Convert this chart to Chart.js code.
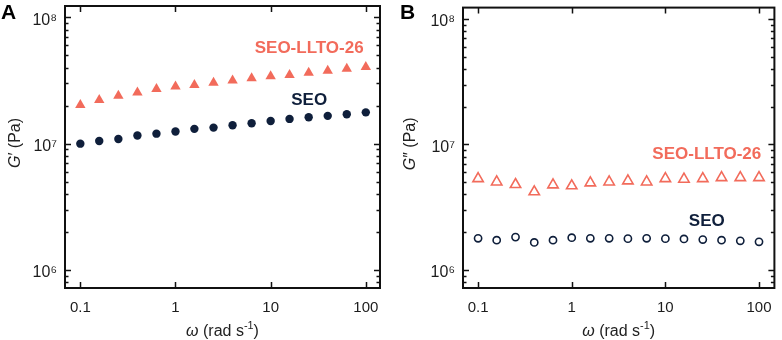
<!DOCTYPE html>
<html><head><meta charset="utf-8">
<script src="https://cdn.jsdelivr.net/npm/chart.js@4/dist/chart.umd.min.js"></script>
<style>
body{margin:0;background:#fff;width:782px;height:340px;overflow:hidden;position:relative}
.p{position:absolute;top:0;width:391px;height:340px}
</style></head><body>
<div class="p" style="left:0"><canvas id="cA" width="391" height="340"></canvas></div>
<div class="p" style="left:391px"><canvas id="cB" width="391" height="340"></canvas></div>
<script>
// angular frequency (rad/s)
const omega = [0.1,0.158,0.251,0.398,0.631,1,1.58,2.51,3.98,6.31,10,15.8,25.1,39.8,63.1,100];
// Panel A: storage modulus G' (Pa)
const storageSEO  = [1.00e7,1.05e7,1.09e7,1.16e7,1.20e7,1.25e7,1.31e7,1.34e7,1.40e7,1.45e7,1.51e7,1.57e7,1.62e7,1.66e7,1.71e7,1.77e7];
const storageLLTO = [2.02e7,2.22e7,2.40e7,2.54e7,2.71e7,2.84e7,2.92e7,3.04e7,3.17e7,3.29e7,3.41e7,3.50e7,3.64e7,3.78e7,3.92e7,4.05e7];
// Panel B: loss modulus G'' (Pa)
const lossSEO  = [1.79e6,1.73e6,1.83e6,1.66e6,1.73e6,1.81e6,1.79e6,1.79e6,1.78e6,1.79e6,1.78e6,1.77e6,1.75e6,1.73e6,1.71e6,1.68e6];
const lossLLTO = [5.35e6,5.03e6,4.80e6,4.20e6,4.77e6,4.69e6,4.95e6,5.03e6,5.13e6,5.03e6,5.35e6,5.29e6,5.35e6,5.45e6,5.45e6,5.45e6];
// ticks
const xTickValues = [0.1,1,10,100];
const xTickLabels = ['0.1','1','10','100'];
const yTickValues = [1e6,1e7,1e8];
const yTickLabels = ['10\u2076','10\u2077','10\u2078'];
const seriesNames = ['SEO','SEO-LLTO-26'];

const NAVY = '#0f1f3b';
const SALMON = '#f26b5b';
const FONT = '"Liberation Sans", Arial, sans-serif';

function pts(xs, ys){ return xs.map((x,i)=>({x:x,y:ys[i]})); }

function drawRich(ctx, parts, x, y, size){
  let total = 0;
  const ws = parts.map(p=>{
    const s = p.sup ? size*0.68 : size;
    ctx.font = (p.it?'italic ':'') + s + 'px ' + FONT;
    const w = ctx.measureText(p.t).width;
    total += w; return w;
  });
  let cx = x - total/2;
  parts.forEach((p,i)=>{
    const s = p.sup ? size*0.68 : size;
    ctx.font = (p.it?'italic ':'') + s + 'px ' + FONT;
    ctx.textAlign = 'left'; ctx.textBaseline = 'middle';
    ctx.fillText(p.t, cx, p.sup ? y - size*0.38 : y);
    cx += ws[i];
  });
}

function makePlugin(cfg){
  return {
    id:'frame'+cfg.panel,
    afterDraw(chart){
      const ctx = chart.ctx, a = chart.chartArea;
      const xs = chart.scales.x, ys = chart.scales.y;
      ctx.save();
      ctx.strokeStyle = '#111'; ctx.lineWidth = 1.5;
      xTickValues.forEach(v=>{
        const px = Math.round(xs.getPixelForValue(v))+0.5;
        ctx.beginPath();
        ctx.moveTo(px, a.bottom); ctx.lineTo(px, a.bottom-6);
        ctx.moveTo(px, a.top); ctx.lineTo(px, a.top+6);
        ctx.stroke();
      });
      for(let d=5; d<=8; d++){
        for(let k=1; k<=9; k++){
          const v = k*Math.pow(10,d);
          if (v < ys.min || v > ys.max) continue;
          const py = Math.round(ys.getPixelForValue(v))+0.5;
          const len = k===1 ? 6 : 3.5;
          ctx.beginPath();
          ctx.moveTo(a.left, py); ctx.lineTo(a.left+len, py);
          ctx.moveTo(a.right, py); ctx.lineTo(a.right-len, py);
          ctx.stroke();
        }
      }
      ctx.lineWidth = 2;
      ctx.strokeRect(a.left, a.top, a.right-a.left, a.bottom-a.top);
      ctx.fillStyle = '#222';
      drawRich(ctx, [{t:'\u03c9',it:true},{t:' (rad s'},{t:'-1',sup:true},{t:')'}], (a.left+a.right)/2, 332, 16);
      ctx.save();
      ctx.translate(cfg.yTitleX, (a.top+a.bottom)/2 - 4);
      ctx.rotate(-Math.PI/2);
      drawRich(ctx, [{t:'G',it:true},{t:cfg.prime + ' (Pa)'}], 0, 0, 16);
      ctx.restore();
      ctx.font = 'bold 21px ' + FONT;
      ctx.textAlign = 'left'; ctx.textBaseline = 'top';
      ctx.fillStyle = '#000';
      ctx.fillText(cfg.panel, cfg.letterX, 3);
      ctx.font = 'bold 17px ' + FONT;
      ctx.textAlign = 'center'; ctx.textBaseline = 'middle';
      cfg.labels.forEach(l=>{
        ctx.fillStyle = l.color;
        ctx.fillText(l.text, xs.getPixelForValue(l.x), ys.getPixelForValue(l.y));
      });
      ctx.restore();
    }
  };
}

function makeChart(id, cfg){
  return new Chart(document.getElementById(id), {
    type:'scatter',
    data:{ datasets: cfg.datasets },
    options:{
      responsive:false, animation:false, devicePixelRatio:1,
      layout:{ padding:{ left:0, top:6, right:cfg.padRight, bottom:0 } },
      plugins:{ legend:{display:false}, tooltip:{enabled:false} },
      scales:{
        x:{
          type:'logarithmic', min:cfg.xmin, max:cfg.xmax,
          afterBuildTicks(s){ s.ticks = xTickValues.map(v=>({value:v})); },
          afterFit(s){ s.height = 52; s.paddingLeft = 0; s.paddingRight = 0; },
          grid:{ display:false, drawTicks:false },
          border:{ display:false },
          ticks:{ autoSkip:false, maxRotation:0, padding:11, color:'#1c1c1c',
            font:{ family:FONT, size:15 },
            callback:(v)=> xTickLabels[xTickValues.indexOf(v)] }
        },
        y:{
          type:'logarithmic', min:7.2e5, max:1.23e8,
          afterBuildTicks(s){ s.ticks = yTickValues.map(v=>({value:v})); },
          afterFit(s){ s.width = cfg.yWidth; s.paddingTop = 0; s.paddingBottom = 0; },
          grid:{ display:false, drawTicks:false },
          border:{ display:false },
          ticks:{ padding:8, color:'#1c1c1c', labelOffset:3,
            font:{ family:FONT, size:16 },
            callback:(v)=> yTickLabels[yTickValues.indexOf(v)] }
        }
      }
    },
    plugins:[ makePlugin(cfg) ]
  });
}

makeChart('cA', {
  panel:'A', prime:'\u2032', yTitleX:16, letterX:1, yWidth:65, padRight:11, xmin:0.069, xmax:141,
  datasets:[
    { label:seriesNames[1], data:pts(omega, storageLLTO), pointStyle:'triangle', pointRadius:6,
      backgroundColor:SALMON, borderColor:SALMON, borderWidth:0 },
    { label:seriesNames[0], data:pts(omega, storageSEO), pointStyle:'circle', pointRadius:4.2,
      backgroundColor:NAVY, borderColor:NAVY, borderWidth:0 }
  ],
  labels:[
    {text:seriesNames[1], color:SALMON, x:25.4, y:5.7e7},
    {text:seriesNames[0], color:NAVY, x:25.4, y:2.2e7}
  ]
});

makeChart('cB', {
  panel:'B', prime:'\u2033', yTitleX:20, letterX:9, yWidth:72, padRight:2, xmin:0.069, xmax:146,
  datasets:[
    { label:seriesNames[1], data:pts(omega, lossLLTO), pointStyle:'triangle', pointRadius:6,
      backgroundColor:'rgba(0,0,0,0)', borderColor:SALMON, borderWidth:1.6 },
    { label:seriesNames[0], data:pts(omega, lossSEO), pointStyle:'circle', pointRadius:3.6,
      backgroundColor:'rgba(0,0,0,0)', borderColor:NAVY, borderWidth:1.6 }
  ],
  labels:[
    {text:seriesNames[1], color:SALMON, x:27.7, y:8.4e6},
    {text:seriesNames[0], color:NAVY, x:27.7, y:2.45e6}
  ]
});
</script>
</body></html>
